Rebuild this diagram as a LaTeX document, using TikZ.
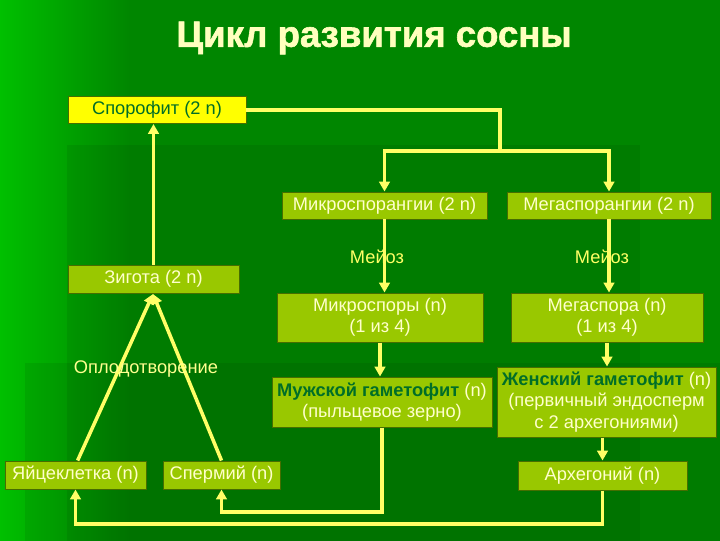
\documentclass[tikz,border=0pt]{standalone}
\usepackage{fontspec}
\setmainfont{Liberation Sans}
\newfontfamily\titlefont[BoldFeatures={FakeBold=1.6}]{Liberation Sans}
\usepackage{tikz}
\usetikzlibrary{arrows.meta,positioning,calc,backgrounds}
\usepackage{xcolor}
\definecolor{bggreen}{RGB}{0,134,0}
\definecolor{bglight}{RGB}{0,196,0}
\definecolor{boxfill}{RGB}{153,200,0}
\definecolor{boxline}{RGB}{70,110,0}
\definecolor{sporfill}{RGB}{255,255,0}
\definecolor{paletext}{RGB}{255,255,204}
\definecolor{titletext}{RGB}{255,255,190}
\definecolor{darktext}{RGB}{0,110,40}
\definecolor{linecol}{RGB}{255,255,102}
\tikzset{
  box/.style    = {rectangle, draw=boxline, line width=0.7pt, fill=boxfill,
                   text=paletext, align=center, inner sep=1pt,
                   font=\fontsize{13}{15}\selectfont},
  sbox/.style   = {box, fill=sporfill, text=darktext},
  lbl/.style    = {text=linecol, font=\fontsize{13}{15}\selectfont},
  arr/.style    = {-{Triangle[length=7pt,width=7.5pt]}, line width=2.5pt, draw=linecol},
  ln/.style     = {line width=2.5pt, draw=linecol},
}

\begin{document}
\begin{tikzpicture}[x=0.025cm, y=-0.025cm]
\useasboundingbox (0,0) rectangle (720,540);

%% Background
\fill[bggreen] (-10,-10) rectangle (730,550);
\shade[left color=bglight, right color=bggreen] (-10,-10) rectangle (130,550);
\fill[black, opacity=0.07] (67,145) rectangle (640,550);
\fill[black, opacity=0.07] (25,363) rectangle (730,550);

%% Title
\node[text=titletext, font=\fontsize{26}{30}\titlefont\bfseries] (title) at (374,38)
  {Цикл развития сосны};

%% Sporophyte and zygote
\node[sbox, minimum width=178*0.025cm, minimum height=27*0.025cm] (spor) at (157,110)
  {Спорофит (2 n)};
\node[box, minimum width=171*0.025cm, minimum height=28*0.025cm] (zyg) at (153.5,279)
  {Зигота (2 n)};

%% Sporangia
\node[box, minimum width=205*0.025cm, minimum height=27*0.025cm] (micsp) at (384.5,205.5)
  {Микроспорангии (2 n)};
\node[box, minimum width=204*0.025cm, minimum height=27*0.025cm] (megsp) at (609,205.5)
  {Мегаспорангии (2 n)};

%% Spores
\node[box, minimum width=206*0.025cm, minimum height=49*0.025cm] (micspore) at (380,317.5)
  {Микроспоры (n)\\(1 из 4)};
\node[box, minimum width=192*0.025cm, minimum height=49*0.025cm] (megspore) at (607,317.5)
  {Мегаспора (n)\\(1 из 4)};

%% Gametophytes
\node[box, minimum width=220*0.025cm, minimum height=50*0.025cm] (male) at (382,402)
  {\textcolor{darktext}{\textbf{Мужской гаметофит}} (n)\\(пыльцевое зерно)};
\node[box, minimum width=219*0.025cm, minimum height=70*0.025cm] (female) at (606.5,402)
  {\textcolor{darktext}{\textbf{Женский гаметофит}} (n)\\(первичный эндосперм\\с 2 архегониями)};

%% Gametes
\node[box, minimum width=169*0.025cm, minimum height=29*0.025cm] (arch) at (602.5,475.5)
  {Архегоний (n)};
\node[box, minimum width=141*0.025cm, minimum height=28*0.025cm] (egg) at (75.5,475)
  {Яйцеклетка (n)};
\node[box, minimum width=117*0.025cm, minimum height=28*0.025cm] (sperm) at (221.5,475)
  {Спермий (n)};

%% Connectors
\coordinate (split) at (500,151);
\coordinate (lowA) at (0,512);
\coordinate (lowB) at (0,524);
\coordinate (fert) at (153,294);

\draw[ln]  (spor.east) -| (split);
\draw[arr] (split) -| (micsp.north);
\draw[arr] (split) -| (megsp.north);
\draw[arr] (micsp.south) -- (micsp.south |- micspore.north);
\draw[arr] (megsp.south) -- (megsp.south |- megspore.north);
\draw[arr] (micspore.south) -- (micspore.south |- male.north);
\draw[arr] (megspore.south) -- (megspore.south |- female.north);
\draw[arr] (arch.north |- female.south) -- (arch.north);
\draw[arr] (male.south) -- (male.south |- lowA) -| (sperm.south);
\draw[arr] (arch.south) -- (arch.south |- lowB) -| (egg.south);
\draw[arr] ([xshift=1.5]egg.north) -- (fert);
\draw[arr] (sperm.north) -- (fert);
\draw[arr] (zyg.north) -- (zyg.north |- spor.south);

%% Labels over the lines
\node[lbl] (meio1) at (377,257) {Мейоз};
\node[lbl] (meio2) at (602,257) {Мейоз};
\node[lbl, text=linecol!60!paletext] (fertlbl) at (146,369) {Оплодотворение};

\end{tikzpicture}
\end{document}
